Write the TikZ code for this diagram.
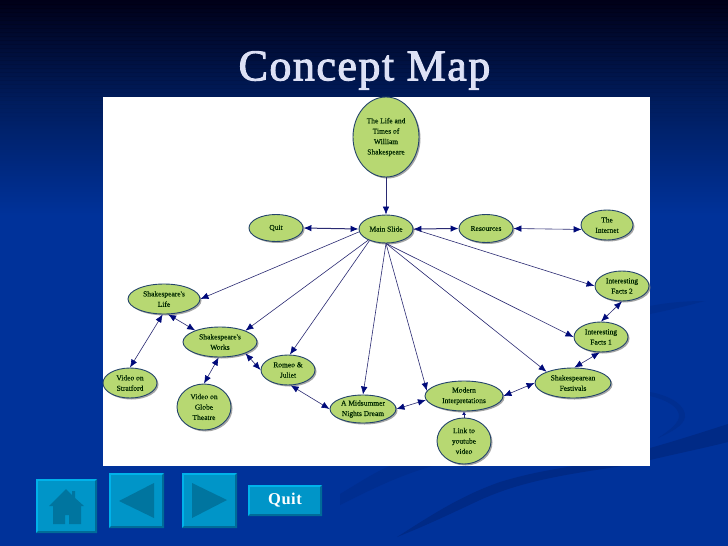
\documentclass[tikz,border=0pt]{standalone}
\usepackage{fontspec}
\setmainfont{Liberation Serif}
\newfontfamily\titlefont[LetterSpace=3.4,FakeBold=2.2]{Liberation Serif}
\newfontfamily\quitfont[LetterSpace=3.0]{Liberation Serif}
\newfontfamily\conceptfont[FakeBold=0.25]{Liberation Serif}
\usetikzlibrary{shapes.geometric,arrows.meta,shadows}
\definecolor{bgTop}{HTML}{000018}
\definecolor{bgMid}{HTML}{001C5C}
\definecolor{bgLow}{HTML}{00329A}
\definecolor{bgDark}{HTML}{002A86}
\definecolor{bgFaint}{HTML}{002E90}
\definecolor{bubble}{HTML}{B7D872}
\definecolor{rim}{HTML}{24446B}
\definecolor{navyTip}{HTML}{000A7A}
\definecolor{linkLine}{HTML}{2A2A72}
\definecolor{btnFace}{HTML}{0095C8}
\definecolor{btnLight}{HTML}{00B2EA}
\definecolor{btnDark}{HTML}{006C98}
\definecolor{btnIcon}{HTML}{00759F}
\definecolor{titleInk}{HTML}{DDE1F5}
\tikzset{
  x=1pt,y=-1pt,
  concept/.style={ellipse,draw=rim,line width=0.9pt,fill=bubble,inner sep=0pt,align=center,
    font=\fontsize{7.5}{10.4}\conceptfont\selectfont,text=black!85!green,
    drop shadow={shadow xshift=1.5pt,shadow yshift=-1.5pt,fill=black!50,opacity=0.7}},
  link/.style={draw=linkLine,line width=0.6pt,-{Latex[length=8pt,width=6.5pt,color=navyTip]}},
  both/.style={draw=linkLine,line width=0.6pt,{Latex[length=8pt,width=6.5pt,color=navyTip]}-{Latex[length=8pt,width=6.5pt,color=navyTip]}},
  sz/.style 2 args={minimum width=#1*2pt,minimum height=#2*2pt},
}
\begin{document}
\begin{tikzpicture}
\useasboundingbox (0,0) rectangle (728,546);
% background
\shade[top color=bgTop,bottom color=bgMid] (0,0) rectangle (728,100);
\shade[top color=bgMid,bottom color=bgLow] (0,100) rectangle (728,215);
\fill[bgLow] (0,215) rectangle (728,546);
\foreach \yy in {4,8,...,124} {\pgfmathsetmacro{\op}{0.16*(1-\yy/128)}\draw[black,opacity=\op,line width=0.8pt] (0,\yy) -- (728,\yy);}
% swooshes
\fill[bgDark] (728,424) .. controls (700,433) and (675,441) .. (650,448) -- (650,460) .. controls (675,454) and (700,449) .. (728,442) -- cycle;
\fill[bgFaint] (650,392) .. controls (672,396) and (686,406) .. (685,417) .. controls (684,425) and (672,432) .. (658,438) .. controls (670,430) and (679,423) .. (679,416) .. controls (679,407) and (667,400) .. (650,396) -- cycle;
\fill[bgFaint] (650,306) .. controls (670,302) and (690,301) .. (705,301) .. controls (690,305) and (670,310) .. (650,314) -- cycle;
\fill[bgDark] (623,466) .. controls (560,475) and (520,482) .. (480,500) .. controls (450,514) and (425,526) .. (397,537) .. controls (430,516) and (460,496) .. (500,482) .. controls (530,473) and (550,470) .. (573,466) -- cycle;
\fill[bgFaint] (433,466) .. controls (400,475) and (370,490) .. (340,505) -- (340,494) .. controls (360,482) and (375,472) .. (390,466) -- cycle;
% title
\node[font=\fontsize{44}{44}\titlefont\selectfont,text=titleInk] (title) at (364.5,70.5) {Concept Map};
% panel
\fill[white] (103,97) rectangle (650,466);
% nodes
\node[concept,sz={33}{40}] (life) at (386,137) {The Life and\\Times of\\William\\Shakespeare};
\node[concept,sz={27}{14}] (main) at (386,229) {Main Slide};
\node[concept,sz={27}{13.5}] (quit) at (276,228) {Quit};
\node[concept,sz={27}{14}] (res) at (486,228.5) {Resources};
\node[concept,sz={26}{15}] (net) at (607,225) {The\\Internet};
\node[concept,sz={27}{15}] (ftwo) at (622,286) {Interesting\\Facts 2};
\node[concept,sz={27}{15}] (fone) at (601,337) {Interesting\\Facts 1};
\node[concept,sz={38}{15}] (fest) at (573,383) {Shakespearean\\Festivals};
\node[concept,sz={39}{15}] (modern) at (464,396) {Modern\\Interpretations};
\node[concept,sz={27}{23}] (tube) at (464,441) {Link to\\youtube\\video};
\node[concept,sz={33}{14}] (dream) at (363,409) {A Midsummer\\Nights Dream};
\node[concept,sz={27}{15}] (romeo) at (288,370) {Romeo \&\\Juliet};
\node[concept,sz={37}{15}] (works) at (220,342) {Shakespeare's\\Works};
\node[concept,sz={36}{15}] (slife) at (164,299) {Shakespeare's\\Life};
\node[concept,sz={27}{15}] (strat) at (130,383) {Video on\\Stratford};
\node[concept,sz={27}{23}] (globe) at (204,407) {Video on\\Globe\\Theatre};
% connectors
\draw[link] (life.south) -- (main.north);
\draw[both,line width=1pt] (quit.east) -- (main.west);
\draw[both,line width=1pt] (main.east) -- (res.west);
\draw[both] (res.east) -- (net.190);
\draw[link] (main.east) -- (ftwo.west);
\draw[link] (main.186) -- (slife.east);
\draw[link] (main.212) -- (works.24);
\draw[link] (main.215) -- (romeo.83);
\draw[link] (main.south) -- (dream.north);
\draw[link] (main.south) -- (modern.172);
\draw[link] (main.south) -- (fest.157);
\draw[link] (main.south) -- (fone.west);
\draw[both] (slife.265) -- (strat.north);
\draw[both] (slife.285) -- (works.155);
\draw[both] (works.265) -- (globe.north);
\draw[both] (works.336) -- (romeo.west);
\draw[both] (romeo.280) -- (dream.west);
\draw[both] (dream.east) -- (modern.186);
\draw[both] (modern.east) -- (fest.west);
\draw[both] (fest.85) -- (fone.265);
\draw[both] (fone.north) -- (ftwo.south);
\draw[draw=linkLine,line width=0.6pt,-{Latex[length=3.5pt,width=4pt,color=navyTip]}] (tube.north) -- (modern.south);
% buttons
\foreach \xa/\ya/\xb/\yb in {36/479/97/533,109/473/164/528,182/473/237/528,248/485/322/516} {
  \fill[btnLight] (\xa,\ya) rectangle (\xb,\yb);
  \fill[btnDark] (\xb,\ya) -- (\xb,\yb) -- (\xa,\yb) -- (\xa+2,\yb-2) -- (\xb-2,\yb-2) -- (\xb-2,\ya+2) -- cycle;
  \fill[btnFace] (\xa+2,\ya+2) rectangle (\xb-2,\yb-2);
}
\fill[btnIcon] (49,506) -- (66,489) -- (72,495) -- (72,491) -- (75,491) -- (75,498) -- (84,506) -- (81,506) -- (81,524) -- (69,524) -- (69,515) -- (65,515) -- (65,524) -- (53,524) -- (53,506) -- cycle;
\fill[btnIcon] (119,501) -- (154,483) -- (154,518) -- cycle;
\fill[btnIcon] (192,483) -- (227,500) -- (192,518) -- cycle;
\node[font=\fontsize{16.5}{16.5}\quitfont\bfseries\selectfont,text=white] (btnquit) at (285,500) {Quit};
\end{tikzpicture}
\end{document}
